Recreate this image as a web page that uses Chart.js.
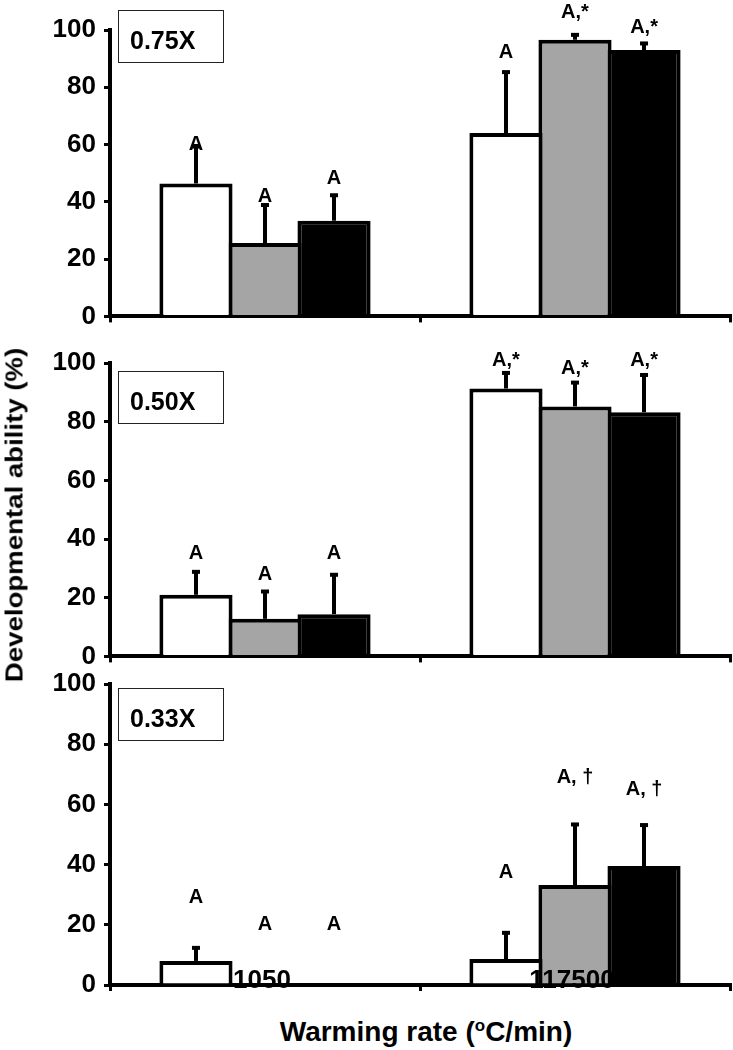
<!DOCTYPE html>
<html>
<head>
<meta charset="utf-8">
<script src="https://cdn.jsdelivr.net/npm/chart.js@4.4.1/dist/chart.umd.min.js"></script>
<style>
  body { margin: 0; background: #fff; }
  #fig { position: relative; width: 733px; height: 1050px; font-family: "Liberation Sans", Arial, sans-serif; color: #000; }
  #fig canvas { position: absolute; left: 0; }
  .tag { position: absolute; left: 118px; width: 106px; height: 53px; box-sizing: border-box;
         border: 1px solid #222; font-weight: bold; font-size: 25px; line-height: 58px; padding-left: 11px; }
  .ytitle { position: absolute; left: 15px; top: 515px; white-space: nowrap; font-weight: bold; font-size: 23px;
            transform: translate(-50%, -50%) rotate(-90deg) scaleX(1.2); }
  .xtitle { position: absolute; left: 426px; top: 1032px; white-space: nowrap; font-weight: bold; font-size: 28px;
            transform: translate(-50%, -50%); }
  .xtitle sup { font-size: 17px; vertical-align: 10px; }
</style>
</head>
<body>
<div id="fig">
  <canvas id="p075" width="733" height="340" style="top:0px"></canvas>
  <canvas id="p050" width="733" height="350" style="top:330px"></canvas>
  <canvas id="p033" width="733" height="350" style="top:660px"></canvas>
  <div class="tag" style="top:10px">0.75X</div>
  <div class="tag" style="top:371px">0.50X</div>
  <div class="tag" style="top:688px">0.33X</div>
  <div class="ytitle">Developmental ability (%)</div>
  <div class="xtitle">Warming rate (<sup>o</sup>C/min)</div>
</div>
<script>
Chart.defaults.font.family = '"Liberation Sans", Arial, sans-serif';
Chart.defaults.color = '#000';

const categories = ['1050', '117500'];
const seriesNames = ['Group 1', 'Group 2', 'Group 3'];
const yTicks = [0, 20, 40, 60, 80, 100];

// rows: white, grey, black bars; columns: 1050, 117500
const means075 = [[46.4, 64.0], [25.6, 96.6], [33.4, 93.0]];
const errors075 = [[13.6, 22.0], [14.0, 2.4], [9.6, 3.0]];
const letters075 = [['A', 'A'], ['A', 'A,*'], ['A', 'A,*']];
const letterAt075 = [[60, 92], [42, 106], [48, 101]];

const means050 = [[21.0, 91.3], [12.8, 85.2], [14.4, 83.2]];
const errors050 = [[8.5, 6.0], [10.0, 8.8], [14.1, 13.4]];
const letters050 = [['A', 'A,*'], ['A', 'A,*'], ['A', 'A,*']];
const letterAt050 = [[35, 101], [28, 98], [35, 101]];

const means033 = [[8.0, 8.6], [0, 33.2], [0, 39.5]];
const errors033 = [[5.0, 9.4], [0, 20.8], [0, 14.3]];
const letters033 = [['A', 'A'], ['A', 'A, \u2020'], ['A', 'A, \u2020']];
const letterAt033 = [[29, 37.5], [20, 69], [20, 65]];

const fills = ['#ffffff', '#a5a5a5', '#000000'];

function makePanel(id, means, errors, letters, letterAt, padTop, padBottom, showCats) {

    // error bars, letters and (bottom panel) category names
    const annotate = {
        id: 'annotate',
        afterDatasetsDraw(chart) {
            const ctx = chart.ctx;
            const x = chart.scales.x, y = chart.scales.y;
            ctx.save();
            ctx.fillStyle = '#000';
            ctx.strokeStyle = '#000';
            chart.data.datasets.forEach((ds, i) => {
                chart.getDatasetMeta(i).data.forEach((bar, j) => {
                    const err = errors[i][j];
                    if (err > 0) {
                        const top = y.getPixelForValue(ds.data[j] + err);
                        ctx.lineWidth = 4;
                        ctx.beginPath();
                        ctx.moveTo(bar.x, bar.y);
                        ctx.lineTo(bar.x, top + 2);
                        ctx.stroke();
                        ctx.fillRect(bar.x - 4, top, 8, 4);
                    }
                    ctx.font = 'bold 20px "Liberation Sans", Arial, sans-serif';
                    ctx.textAlign = 'center';
                    ctx.textBaseline = 'middle';
                    ctx.fillText(letters[i][j], bar.x, y.getPixelForValue(letterAt[i][j]));
                });
            });
            if (showCats) {
                ctx.font = 'bold 26px "Liberation Sans", Arial, sans-serif';
                categories.forEach((c, k) => {
                    ctx.fillText(c, x.getPixelForValue(k) - 3, y.getPixelForValue(0) - 4);
                });
            }
            ctx.restore();
        }
    };

    return new Chart(document.getElementById(id), {
        type: 'bar',
        data: {
            labels: categories,
            datasets: means.map((m, i) => ({
                label: seriesNames[i],
                data: m,
                backgroundColor: fills[i],
                borderColor: '#000',
                borderWidth: 4,
                borderSkipped: 'start',
                barPercentage: 1.06,
                categoryPercentage: 0.668
            }))
        },
        options: {
            responsive: false,
            animation: false,
            events: [],
            layout: { padding: { top: padTop, bottom: padBottom, left: 0, right: 3 } },
            plugins: { legend: { display: false }, tooltip: { enabled: false } },
            scales: {
                x: {
                    offset: true,
                    z: 1,
                    border: { color: '#000', width: 4 },
                    grid: { offset: true, drawOnChartArea: false, tickLength: 6, color: '#000', lineWidth: 3 },
                    ticks: { display: false }
                },
                y: {
                    min: 0,
                    max: 100,
                    afterBuildTicks: s => { s.ticks = yTicks.map(v => ({ value: v })); },
                    afterFit: s => { s.width = 110; },
                    border: { color: '#000', width: 4 },
                    grid: { drawOnChartArea: false, tickLength: 6, color: '#000', lineWidth: 3 },
                    ticks: { color: '#000', padding: 8, font: { size: 26, weight: 'bold' } }
                }
            }
        },
        plugins: [annotate]
    });
}

makePanel('p075', means075, errors075, letters075, letterAt075, 30, 11, false);
makePanel('p050', means050, errors050, letters050, letterAt050, 33, 13, false);
makePanel('p033', means033, errors033, letters033, letterAt033, 24, 19, true);
</script>
</body>
</html>
